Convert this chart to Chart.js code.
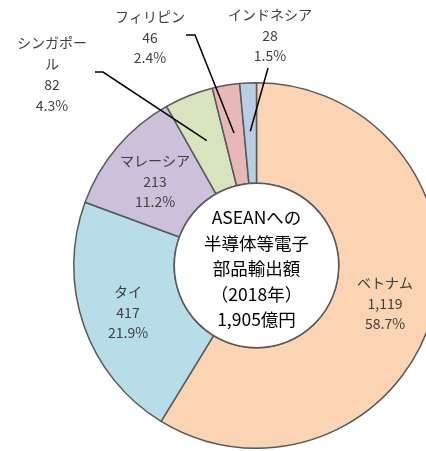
<!DOCTYPE html>
<html>
<head>
<meta charset="utf-8">
<script src="https://cdn.jsdelivr.net/npm/chart.js@4"></script>
<style>
  html, body { margin: 0; padding: 0; background: #fff; overflow: hidden; }
  #wrap { width: 426px; height: 451px; overflow: hidden; position: relative; }
  canvas { position: absolute; left: 0; top: 0; }
</style>
</head>
<body>
<div id="wrap"><canvas id="asean" width="514" height="451"></canvas></div>
<script>
const laender = ["ベトナム", "タイ", "マレーシア", "シンガポール", "フィリピン", "インドネシア"];
const betrag = [1119, 417, 213, 82, 46, 28];
const anteil = ["58.7%", "21.9%", "11.2%", "4.3%", "2.4%", "1.5%"];
const betragText = ["1,119", "417", "213", "82", "46", "28"];
const farben = ["#fbd4b4", "#b7dde8", "#ccc0da", "#d7e4bd", "#e6b9b8", "#b9cde5"];
const mitteText = ["ASEANへの", "半導体等電子", "部品輸出額", "（2018年）", "1,905億円"];

// Beschriftungen: Position der ersten Zeile, Namen ggf. umgebrochen
const beschriftung = [
    { x: 385, y: 283, name: ["ベトナム"] },
    { x: 128, y: 292, name: ["タイ"] },
    { x: 155, y: 161, name: ["マレーシア"] },
    { x: 52, y: 43, name: ["シンガポー", "ル"], linie: [[95, 72], [103, 72]] },
    { x: 150, y: 17, name: ["フィリピン"], linie: [[186, 35], [195, 35]] },
    { x: 270, y: 15, name: ["インドネシア"], linie: [[268, 68]] },
];

const schrift = "'Noto Sans CJK JP', 'Noto Sans', sans-serif";

const labelPlugin = {
    id: "labelPlugin",
    afterDatasetsDraw(chart) {
        const ctx = chart.ctx;
        const meta = chart.getDatasetMeta(0);
        ctx.save();
        // weisser Kreis in der Mitte
        const a0 = meta.data[0];
        ctx.beginPath();
        ctx.arc(a0.x, a0.y, a0.innerRadius, 0, Math.PI * 2);
        ctx.fillStyle = "#ffffff";
        ctx.fill();
        ctx.lineWidth = 1.5;
        ctx.strokeStyle = "#595959";
        ctx.stroke();

        ctx.textAlign = "center";
        ctx.textBaseline = "middle";
        ctx.fillStyle = "#000000";
        ctx.font = "17.5px " + schrift;
        mitteText.forEach((t, i) => {
            ctx.fillText(t, a0.x, a0.y - 48 + i * 25.5);
        });

        ctx.font = "14px " + schrift;
        ctx.fillStyle = "#404040";
        beschriftung.forEach((b, i) => {
            const zeilen = b.name.concat([betragText[i], anteil[i]]);
            const abstand = b.name.length > 1 ? 21 : 20.5;
            zeilen.forEach((z, j) => {
                ctx.fillText(z, b.x, b.y + j * abstand);
            });
            if (b.linie) {
                const arc = meta.data[i];
                const mitte = (arc.startAngle + arc.endAngle) / 2;
                const r = arc.outerRadius * 0.735;
                ctx.beginPath();
                ctx.moveTo(b.linie[0][0], b.linie[0][1]);
                for (let k = 1; k < b.linie.length; k++) {
                    ctx.lineTo(b.linie[k][0], b.linie[k][1]);
                }
                ctx.lineTo(arc.x + Math.cos(mitte) * r, arc.y + Math.sin(mitte) * r);
                ctx.lineWidth = 1.5;
                ctx.strokeStyle = "#000000";
                ctx.stroke();
            }
        });
        ctx.restore();
    },
};

new Chart(document.getElementById("asean"), {
    type: "doughnut",
    data: {
        labels: laender,
        datasets: [
            {
                data: betrag,
                backgroundColor: farben,
                borderColor: "#595959",
                borderWidth: 1.5,
            },
        ],
    },
    options: {
        responsive: false,
        animation: false,
        cutout: "45%",
        layout: { padding: { left: 73, right: 74, top: 82, bottom: 2 } },
        plugins: {
            legend: { display: false },
            tooltip: { enabled: false },
        },
    },
    plugins: [labelPlugin],
});
</script>
</body>
</html>
